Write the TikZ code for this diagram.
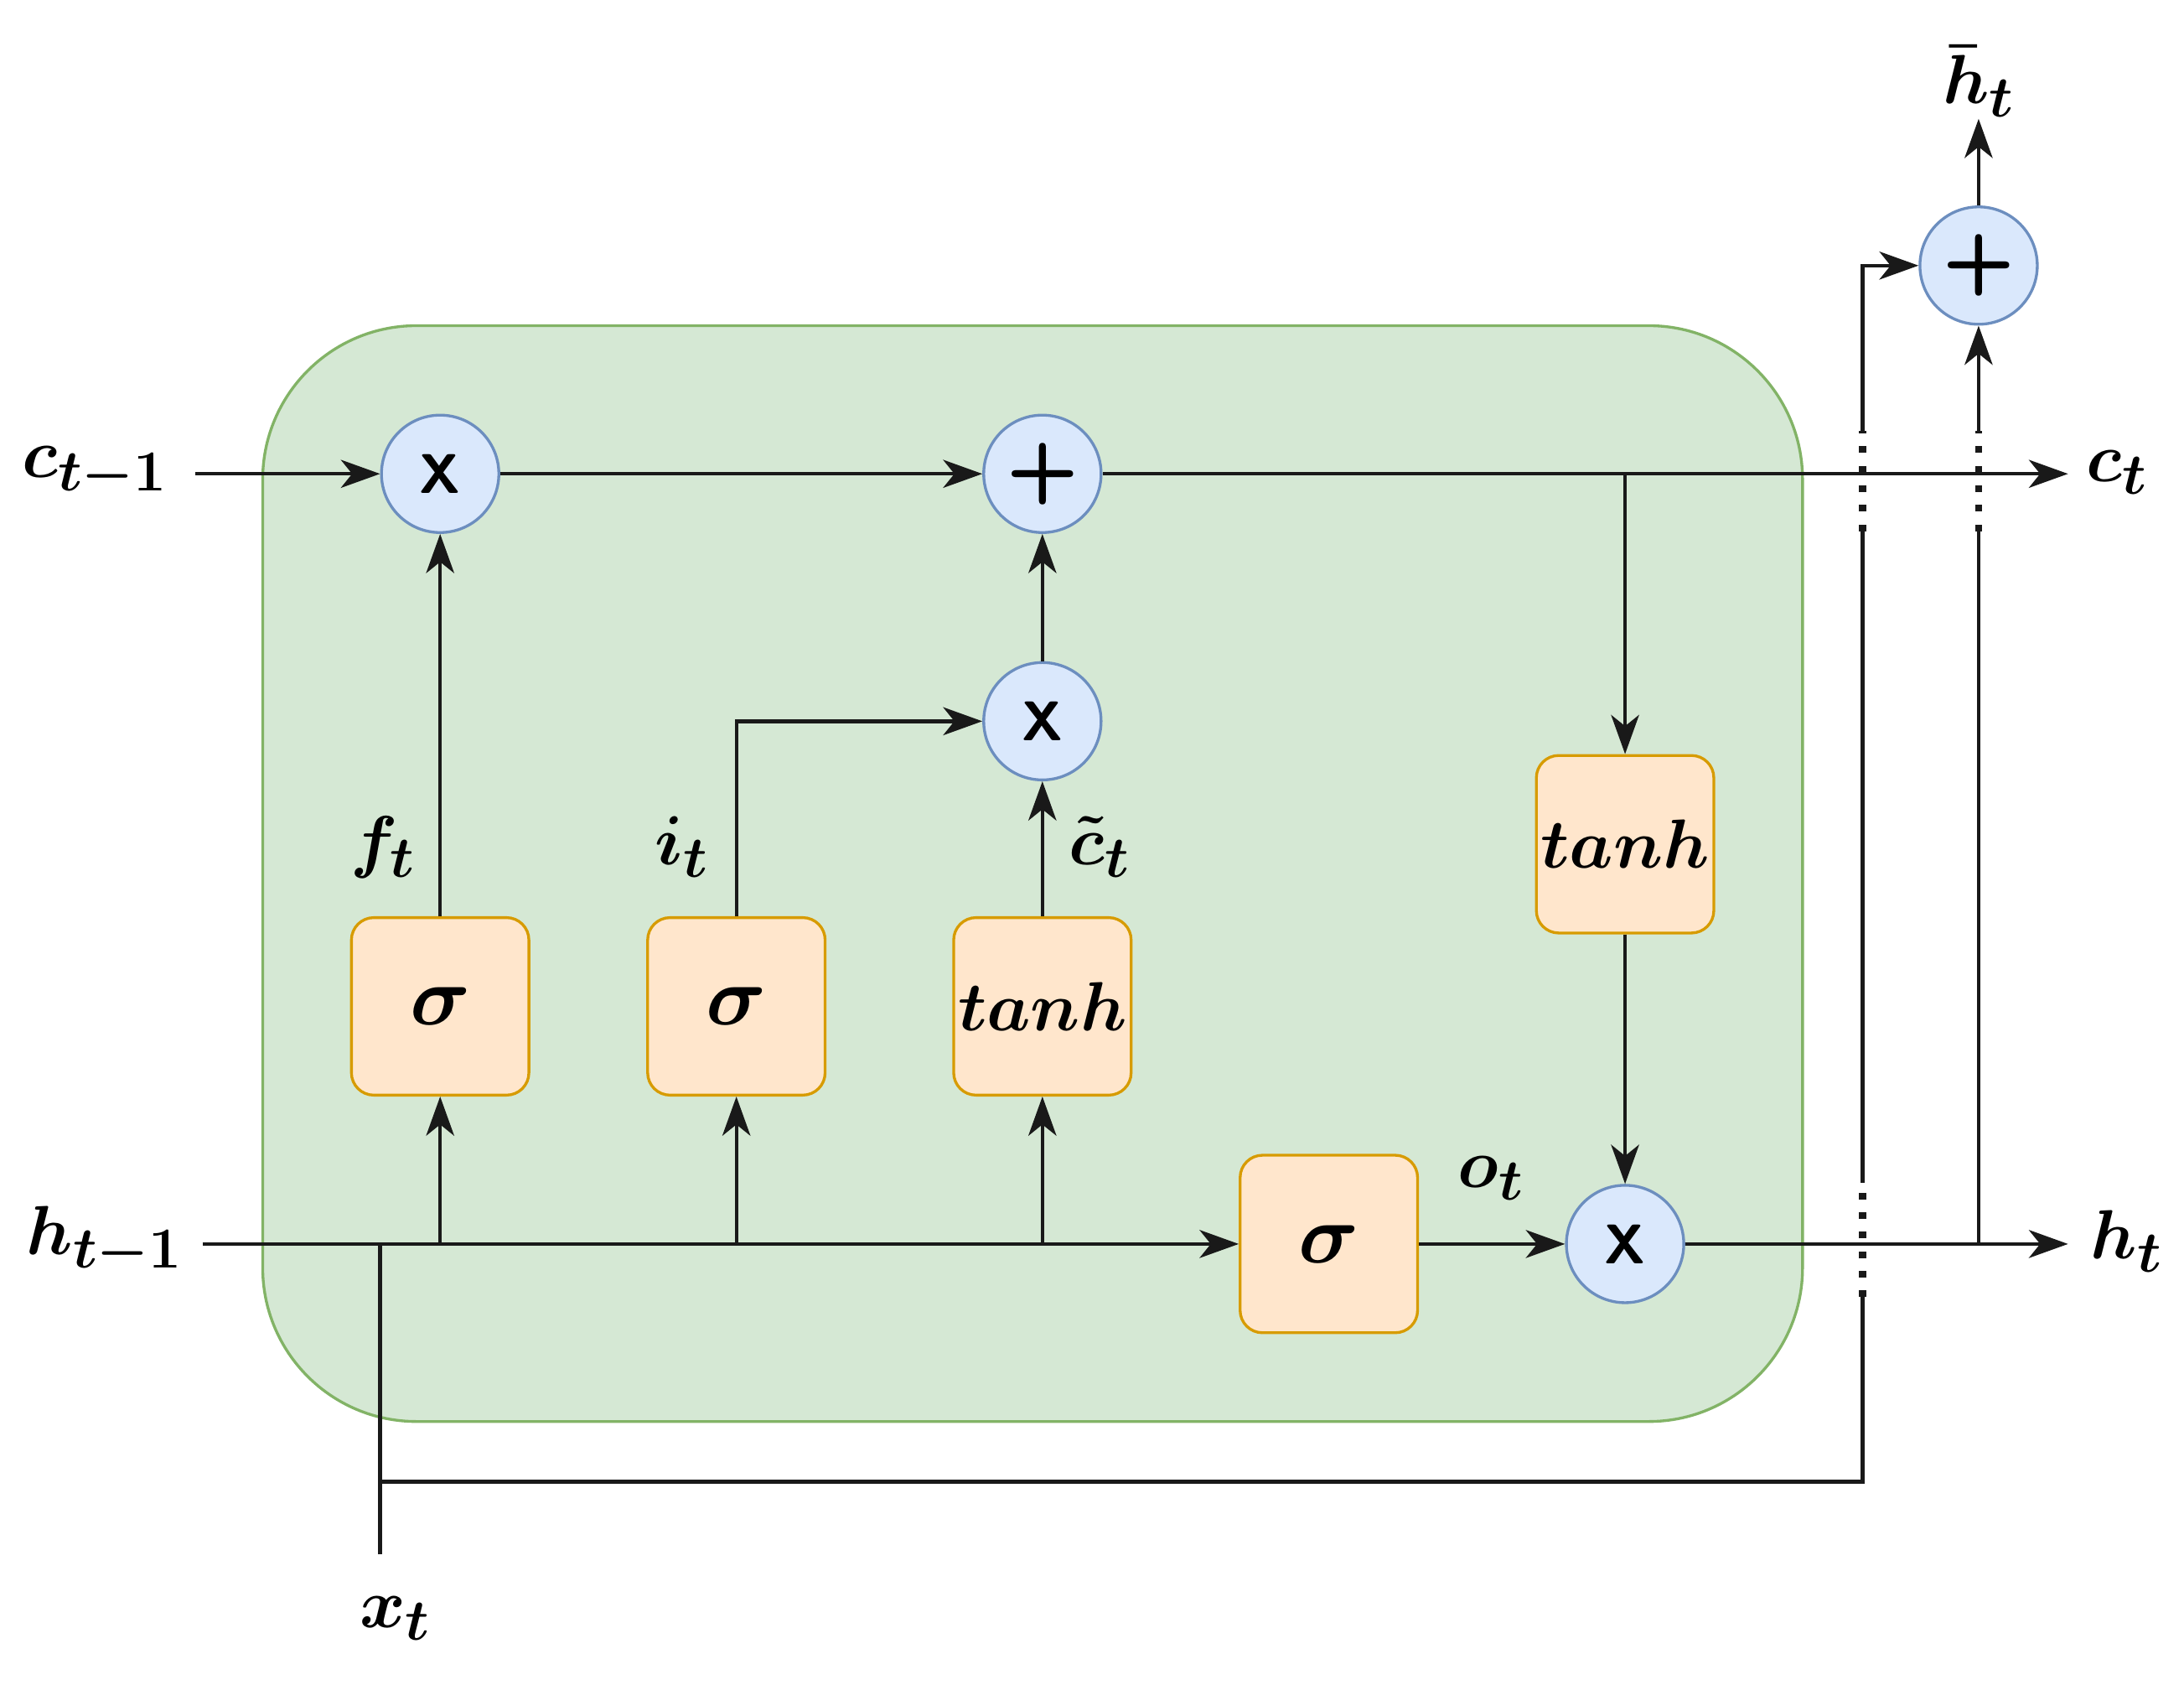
\documentclass[tikz,border=0pt]{standalone}
\usepackage{amsmath,bm,graphicx}
\usetikzlibrary{arrows.meta}
\begin{document}
\begin{tikzpicture}[x=0.5pt,y=-0.5pt,
  ln/.style={line width=1.3pt,draw=black!90},
  ar/.style={ln,-{Stealth[length=14pt,width=10pt,inset=4pt]}},
  dt/.style={line width=2.6pt,draw=black!90,dash pattern=on 2.4pt off 4.6pt},
  op/.style={circle,minimum size=42pt,inner sep=0pt,fill={rgb,255:red,218;green,232;blue,252},draw={rgb,255:red,108;green,142;blue,191},line width=1pt,font=\sffamily\bfseries\fontsize{20}{24}\selectfont},
  act/.style={rectangle,rounded corners=8pt,minimum size=63.5pt,inner sep=0pt,fill={rgb,255:red,255;green,230;blue,204},draw={rgb,255:red,215;green,155;blue,0},line width=1pt},
  lab/.style={font=\fontsize{30}{34}\selectfont}]
\useasboundingbox (0,0) rectangle (1563,1205);
\draw[fill={rgb,255:red,213;green,232;blue,212},draw={rgb,255:red,130;green,179;blue,102},line width=1pt,rounded corners=55pt] (188,233) rectangle (1290,1017);
% nodes
\node[op] (m1) at (315,339) {X};
\node[op] (p1) at (746,339) {\scalebox{1.5}{+}};
\node[op] (m2) at (746,516) {X};
\node[op] (m3) at (1163,890) {X};
\node[op] (p2) at (1416,190) {\scalebox{1.5}{+}};
\node[act] (s1) at (315,720) {\scalebox{3}{$\bm{\sigma}$}};
\node[act] (s2) at (527,720) {\scalebox{3}{$\bm{\sigma}$}};
\node[act] (t1) at (746,720) {\fontsize{25}{30}\selectfont$\bm{tanh}$};
\node[act] (s3) at (951,890) {\scalebox{3}{$\bm{\sigma}$}};
\node[act] (t2) at (1163,604) {\fontsize{25}{30}\selectfont$\bm{tanh}$};
% labels
\node[lab] (lc0) at (68,338) {$\bm{c_{t-1}}$};
\node[lab] (lh0) at (75,888) {$\bm{h_{t-1}}$};
\node[lab] (lc1) at (1515,338) {$\bm{c_t}$};
\node[lab] (lh1) at (1522,888) {$\bm{h_t}$};
\node[lab] (lx) at (283,1158) {$\bm{x_t}$};
\node[lab] (lhb) at (1416,58) {$\bm{\bar{h}_t}$};
\node[lab] (lf) at (274,606) {$\bm{f_t}$};
\node[lab] (li) at (488,606) {$\bm{i_t}$};
\node[lab] (lct) at (787,606) {$\bm{\tilde{c}_t}$};
\node[lab] (lo) at (1067,843) {$\bm{o_t}$};
% coordinates
\coordinate (cin) at (140,339);
\coordinate (cout) at (1480,339);
\coordinate (cb) at (1163,339);
\coordinate (hin) at (145,890);
\coordinate (hout) at (1480,890);
\coordinate (hb1) at (315,890);
\coordinate (hb2) at (527,890);
\coordinate (hb3) at (746,890);
\coordinate (xb) at (272,1112);
\coordinate (xh) at (272,890);
\coordinate (xc) at (272,1060);
\coordinate (r1) at (1333,1060);
\coordinate (r2) at (1333,928);
\coordinate (r3) at (1333,846);
\coordinate (r4) at (1333,380);
\coordinate (r5) at (1333,308);
\coordinate (r6) at (1333,190);
\coordinate (q1) at (1416,890);
\coordinate (q2) at (1416,380);
\coordinate (q3) at (1416,308);
\coordinate (top) at (1416,85);
\coordinate (i1) at (527,516);
% connectors
\draw[ar] (cin) -- (m1);
\draw[ar] (m1) -- (p1);
\draw[ar] (p1) -- (cout);
\draw[ar] (cb) -- (t2);
\draw[ar] (t2) -- (m3);
\draw[ar] (hin) -- (s3);
\draw[ar] (hb1) -- (s1);
\draw[ar] (hb2) -- (s2);
\draw[ar] (hb3) -- (t1);
\draw[ar] (s1) -- (m1);
\draw[ar] (s2.north) -- (i1) -- (m2);
\draw[ar] (t1) -- (m2);
\draw[ar] (m2) -- (p1);
\draw[ar] (s3) -- (m3);
\draw[ar] (m3) -- (hout);
\draw[ln] (xb) -- (xh);
\draw[ln] (xc) -- (r1) -- (r2);
\draw[dt] (r2) -- (r3);
\draw[ln] (r3) -- (r4);
\draw[dt] (r4) -- (r5);
\draw[ar] (r5) -- (r6) -- (p2);
\draw[ln] (q1) -- (q2);
\draw[dt] (q2) -- (q3);
\draw[ar] (q3) -- (p2);
\draw[ar] (p2) -- (top);
\end{tikzpicture}
\end{document}
